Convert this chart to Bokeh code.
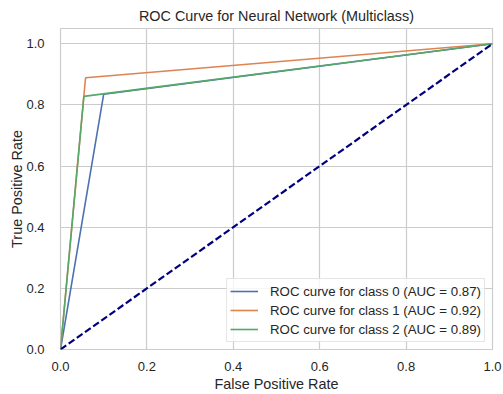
from bokeh.plotting import figure
from bokeh.models import Range1d, FixedTicker, Legend, LegendItem, CustomJSTickFormatter
from bokeh.embed import file_html
from bokeh.resources import INLINE

# Data
fpr_class0 = [0.0, 0.10, 1.0]
tpr_class0 = [0.0, 0.835, 1.0]
fpr_class1 = [0.0, 0.058, 1.0]
tpr_class1 = [0.0, 0.889, 1.0]
fpr_class2 = [0.0, 0.054, 1.0]
tpr_class2 = [0.0, 0.828, 1.0]
auc_values = [0.87, 0.92, 0.89]
diag_x = [0.0, 1.0]
diag_y = [0.0, 1.0]
ticks = [0.0, 0.2, 0.4, 0.6, 0.8, 1.0]

colors = ["#4C72B0", "#DD8452", "#55A868"]
FONT = "Liberation Sans"
TXT = "#262626"

p = figure(width=503, height=394, output_backend="svg", toolbar_location=None,
           x_range=Range1d(0, 1.0), y_range=Range1d(0, 1.05),
           min_border_left=60, min_border_right=11, min_border_top=28, min_border_bottom=42)

p.title.text = "ROC Curve for Neural Network (Multiclass)"
p.title.align = "center"
p.title.text_font = FONT
p.title.text_font_size = "14.4px"
p.title.text_font_style = "normal"
p.title.text_color = TXT
p.title.offset = 0

p.background_fill_color = "white"
p.outline_line_color = "#cccccc"
p.outline_line_width = 1.2

for ax in (p.xaxis, p.yaxis):
    ax.ticker = FixedTicker(ticks=ticks)
    ax.formatter = CustomJSTickFormatter(code="return tick.toFixed(1);")
    ax.axis_line_color = None
    ax.major_tick_line_color = None
    ax.minor_tick_line_color = None
    ax.major_label_text_font = FONT
    ax.major_label_text_font_size = "13px"
    ax.major_label_text_color = TXT
    ax.axis_label_text_font = FONT
    ax.axis_label_text_font_size = "14.4px"
    ax.axis_label_text_font_style = "normal"
    ax.axis_label_text_color = TXT

p.xaxis.axis_label = "False Positive Rate"
p.yaxis.axis_label = "True Positive Rate"
p.xaxis.major_label_standoff = 6
p.yaxis.major_label_standoff = 10
p.xaxis.axis_label_standoff = 2
p.yaxis.axis_label_standoff = -2

p.xgrid.ticker = FixedTicker(ticks=ticks)
p.ygrid.ticker = FixedTicker(ticks=ticks)
p.grid.grid_line_color = "#cccccc"
p.grid.grid_line_width = 1.2

r0 = p.line(fpr_class0, tpr_class0, line_color=colors[0], line_width=1.6)
r1 = p.line(fpr_class1, tpr_class1, line_color=colors[1], line_width=1.6)
r2 = p.line(fpr_class2, tpr_class2, line_color=colors[2], line_width=1.6)
p.line(diag_x, diag_y, line_color="navy", line_width=2.2, line_dash="7 3")

items = [
    LegendItem(label=f"ROC curve for class {i} (AUC = {auc_values[i]:.2f})", renderers=[r])
    for i, r in enumerate([r0, r1, r2])
]
legend = Legend(items=items, location="bottom_right")
legend.label_text_font = FONT
legend.label_text_font_size = "13.25px"
legend.label_text_color = TXT
legend.border_line_color = "#cccccc"
legend.border_line_width = 1
legend.background_fill_alpha = 0.8
legend.glyph_width = 28
legend.glyph_height = 18
legend.label_height = 18
legend.spacing = 1
legend.padding = 3
legend.margin = 7
legend.label_standoff = 12
p.add_layout(legend, "center")

open("out.html", "w").write(file_html(p, INLINE))
